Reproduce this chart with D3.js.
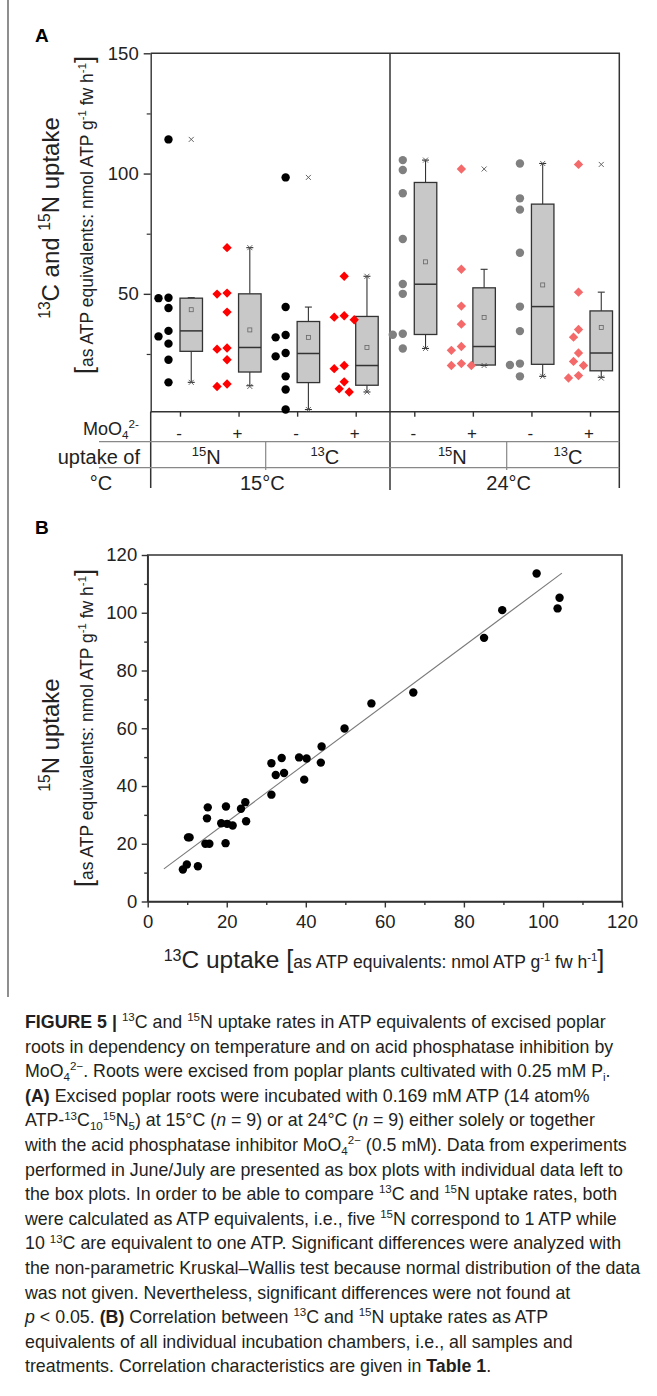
<!DOCTYPE html>
<html><head><meta charset="utf-8">
<script src="https://cdn.jsdelivr.net/npm/d3@7"></script>
<style>
html,body{margin:0;padding:0;background:#fff;}
svg{display:block;font-family:"Liberation Sans",Arial,sans-serif;}
</style></head>
<body>
<svg id="fig" width="657" height="1396"></svg>
<script>
// ---------------- DATA ----------------
// Panel A: groups (uptake of / MoO4 / temperature)
const groupUptake = ["15N","15N","13C","13C","15N","15N","13C","13C"];
const groupMo = ["-","+","-","+","-","+","-","+"];
const groupTemp = ["15°C","15°C","15°C","15°C","24°C","24°C","24°C","24°C"];
// individual values per group
const ptsG1 = [114.2,48.4,48.2,44.1,34.6,32.3,29.3,22.6,13.2];
const ptsG2 = [69.2,50.3,49.9,42.4,27.5,27.0,22.6,12.5,11.5];
const ptsG3 = [98.4,44.5,32.9,31.9,25.4,24.0,15.7,10.2,1.9];
const ptsG4 = [57.3,40.9,40.3,39.2,20.2,18.9,13.4,10.5,9.2];
const ptsG5 = [105.6,101.5,91.8,72.8,54.1,50.0,33.4,33.0,27.3];
const ptsG6 = [101.9,60.2,44.9,37.4,28.1,26.5,21.0,20.2,20.2];
const ptsG7 = [104.2,89.7,85.0,67.1,44.7,34.5,21.0,20.4,15.7];
const ptsG8 = [103.8,50.7,35.2,32.0,25.4,21.9,20.2,16.0,15.0];
// box statistics
const boxQ1     = [26.1,17.5,13.1,12.0,33.1,20.4,20.7,18.0];
const boxMedian = [34.6,27.7,25.2,20.2,54.0,28.1,44.7,25.4];
const boxQ3     = [48.2,50.0,38.5,40.6,96.3,52.5,87.3,42.9];
const boxWhLow  = [13.2,11.8,1.9,9.2,27.3,20.2,15.7,15.3];
const boxWhHigh = [48.4,69.2,44.5,57.3,105.6,60.2,104.2,50.7];
const boxMean   = [43.4,35.0,31.9,27.7,63.3,40.2,53.7,36.0];
const boxMin    = [13.2,11.5,1.9,9.2,27.3,20.2,15.7,15.0];
const boxMax    = [114.2,69.2,98.4,57.3,105.6,101.9,104.2,103.8];
const yTicksA = [50,100,150];
const yMinorA = [25,75,125];

// Panel B: 13C vs 15N uptake
const c13 = [8.9,9.9,10.2,10.6,12.7,15.2,15.0,14.6,15.6,18.6,19.8,19.7,20.1,21.5,23.6,24.7,24.9,31.3,31.3,32.4,33.9,34.5,38.3,40.2,39.6,43.8,44.0,49.8,56.6,67.2,85.1,89.7,98.4,104.2,103.7];
const n15 = [11.1,12.8,22.2,22.2,12.2,32.6,28.8,20.0,20.0,27.1,32.9,20.2,26.9,26.3,32.1,34.4,27.8,47.9,37.0,43.8,49.7,44.5,49.9,49.5,42.2,48.1,53.7,59.9,68.6,72.4,91.3,100.9,113.6,105.2,101.5];
const fitSlope = 1.017, fitIntercept = 7.13, fitRange = [4.1,104.8];
const ticksB = [0,20,40,60,80,100,120];
const minorB = [10,30,50,70,90,110];

// ---------------- HELPERS ----------------
const svg = d3.select("#fig");
function rich(text, segs, fs){
  let cur = 0;
  segs.forEach(s=>{
    const str = s[0], f = (s[1]||"").split(" ");
    let size = fs, off = 0;
    if(f.includes("sup")){ size = fs*0.65; off = -0.38*fs; }
    if(f.includes("sub")){ size = fs*0.65; off = 0.22*fs; }
    if(f.includes("big")){ size = fs*1.45; }
    if(f.includes("large")){ size = fs*1.4; }
    const t = text.append("tspan").text(str).attr("font-size", size);
    if(off!==cur){ t.attr("dy", off-cur); cur = off; }
    if(f.includes("b")) t.attr("font-weight","bold");
    if(f.includes("i")) t.attr("font-style","italic");
  });
  return text;
}
const dark = "#333";

// frame line on left
svg.append("line").attr("x1",8).attr("x2",8).attr("y1",0).attr("y2",997).attr("stroke","#444").attr("stroke-width",1.2);

// ---------------- PANEL A ----------------
const L = 150.7, R = 619.3, T = 53.3, B = 411.7, DIV = 390;
const yA = d3.scaleLinear().domain([1,150]).range([B,T]);
const xA = d3.scalePoint().domain(d3.range(8)).range([L,R]).padding(0.5);
const gA = svg.append("g");

svg.append("text").attr("x",35).attr("y",42).attr("font-size",19).attr("font-weight","bold").text("A");

// y axis
const axA = gA.append("g").attr("transform",`translate(${L},0)`)
  .call(d3.axisLeft(yA).tickValues(yTicksA).tickSize(7).tickSizeOuter(0).tickPadding(5));
axA.selectAll("text").attr("font-size",18.5).attr("fill","#222").attr("font-family","Liberation Sans, Arial");
axA.selectAll("line,path").attr("stroke",dark).attr("stroke-width",1.4);
const axAm = gA.append("g").attr("transform",`translate(${L},0)`)
  .call(d3.axisLeft(yA).tickValues(yMinorA).tickSize(4).tickFormat(""));
axAm.select(".domain").remove();
axAm.selectAll("line").attr("stroke",dark).attr("stroke-width",1.2);

// x axis ticks
const axAx = gA.append("g").attr("transform",`translate(0,${B})`)
  .call(d3.axisBottom(xA).tickSize(5).tickSizeOuter(0).tickFormat(""));
axAx.select(".domain").remove();
axAx.selectAll("line").attr("stroke",dark).attr("stroke-width",1.4);

// frame
gA.append("path").attr("d",`M${L},${B}H${R}V${T}H${L}`).attr("fill","none").attr("stroke",dark).attr("stroke-width",1.5);
// divider / table verticals
gA.append("line").attr("x1",DIV).attr("x2",DIV).attr("y1",T).attr("y2",490).attr("stroke",dark).attr("stroke-width",1.5);
gA.append("line").attr("x1",L).attr("x2",L).attr("y1",B).attr("y2",488).attr("stroke",dark).attr("stroke-width",1.5);
gA.append("line").attr("x1",R).attr("x2",R).attr("y1",B).attr("y2",488).attr("stroke",dark).attr("stroke-width",1.5);
// table horizontals
[441.7,467.7].forEach(y=>gA.append("line").attr("x1",99).attr("x2",R).attr("y1",y).attr("y2",y).attr("stroke","#888").attr("stroke-width",1.2));
const seps = [265.7,506.7];
seps.forEach(x=>gA.append("line").attr("x1",x).attr("x2",x).attr("y1",441.7).attr("y2",470).attr("stroke","#888").attr("stroke-width",1.2));

// MoO4 labels
groupMo.forEach((m,i)=>{
  gA.append("text").attr("x",xA(i)-1).attr("y",439).attr("text-anchor","middle").attr("font-size",17).attr("fill","#222").text(m);
});
// uptake labels (centered in their table cells)
const cellEdges = [[L,seps[0]],[seps[0],DIV],[DIV,seps[1]],[seps[1],R]];
const cellShift = [-2,-3,4,5];
cellEdges.forEach((c,k)=>{
  const u = groupUptake[k*2];
  const t = gA.append("text").attr("x",(c[0]+c[1])/2+cellShift[k]).attr("y",464).attr("text-anchor","middle").attr("font-size",20).attr("fill","#222");
  rich(t,[[u.slice(0,2),"sup"],[u.slice(2)]],20);
});
// temp labels
[[L,DIV,0,-8],[DIV,R,4,4]].forEach(p=>{
  gA.append("text").attr("x",(p[0]+p[1])/2+p[3]).attr("y",490).attr("text-anchor","middle").attr("font-size",20).attr("fill","#222").text(groupTemp[p[2]]);
});
// row titles
rich(gA.append("text").attr("x",139).attr("y",435).attr("text-anchor","end").attr("font-size",18).attr("fill","#222"),[["MoO"],["4","sub"],["2-","sup"]],18);
gA.append("text").attr("x",140).attr("y",464).attr("text-anchor","end").attr("font-size",20).attr("fill","#222").text("uptake of");
gA.append("text").attr("x",101).attr("y",490).attr("text-anchor","middle").attr("font-size",20).attr("fill","#222").text("°C");

// y title
const tA1 = gA.append("text").attr("transform","translate(59,218) rotate(-90)").attr("text-anchor","middle").attr("font-size",24).attr("fill","#222");
rich(tA1,[["13","sup"],["C and "],["15","sup"],["N uptake"]],24);
const tA2 = gA.append("text").attr("transform","translate(93,215) rotate(-90)").attr("text-anchor","middle").attr("font-size",17.5).attr("fill","#222");
rich(tA2,[["[","big"],["as ATP equivalents: nmol ATP g"],["-1","sup"],[" fw h"],["-1","sup"],["]","big"]],17.5);

// boxes & points
const allPts = [ptsG1,ptsG2,ptsG3,ptsG4,ptsG5,ptsG6,ptsG7,ptsG8];
const ptColor = ["#000","#ff0000","#000","#ff0000","#808080","#f46a6a","#808080","#f46a6a"];
const isDiamond = [false,true,false,true,false,true,false,true];
const boxW = 22.5;
allPts.forEach((pts,i)=>{
  const x0 = xA(i), bc = x0 + boxW/2;
  const g = gA.append("g");
  // whiskers
  g.append("line").attr("x1",bc).attr("x2",bc).attr("y1",yA(boxQ3[i])).attr("y2",yA(boxWhHigh[i])).attr("stroke",dark).attr("stroke-width",1.1);
  g.append("line").attr("x1",bc).attr("x2",bc).attr("y1",yA(boxQ1[i])).attr("y2",yA(boxWhLow[i])).attr("stroke",dark).attr("stroke-width",1.1);
  [boxWhHigh[i],boxWhLow[i]].forEach(v=>g.append("line").attr("x1",bc-3.5).attr("x2",bc+3.5).attr("y1",yA(v)).attr("y2",yA(v)).attr("stroke",dark).attr("stroke-width",1.1));
  // box
  g.append("rect").attr("x",x0).attr("width",boxW).attr("y",yA(boxQ3[i])).attr("height",yA(boxQ1[i])-yA(boxQ3[i]))
    .attr("fill","#c8c8c8").attr("stroke",dark).attr("stroke-width",1.3);
  g.append("line").attr("x1",x0).attr("x2",x0+boxW).attr("y1",yA(boxMedian[i])).attr("y2",yA(boxMedian[i])).attr("stroke",dark).attr("stroke-width",1.5);
  // mean
  g.append("rect").attr("x",bc-2).attr("y",yA(boxMean[i])-2).attr("width",4).attr("height",4).attr("fill","none").attr("stroke","#666").attr("stroke-width",0.8);
  // min / max crosses
  [boxMin[i],boxMax[i]].forEach(v=>{
    const cy = yA(v);
    g.append("path").attr("d",`M${bc-2.5},${cy-2.5}L${bc+2.5},${cy+2.5}M${bc-2.5},${cy+2.5}L${bc+2.5},${cy-2.5}`).attr("stroke","#555").attr("stroke-width",0.9);
  });
  // points with simple beeswarm
  const cx0 = x0 - 11.5;
  const placed = [];
  const sorted = pts.slice().sort((a,b)=>b-a);
  sorted.forEach(v=>{
    const cy = yA(v);
    const offs = [0,-5,5,-10,10,-13,13];
    let ox = 0;
    for(const o of offs){
      if(placed.every(p=>Math.hypot(p[0]-(cx0+o),p[1]-cy)>=8.5)){ ox = o; break; }
    }
    placed.push([cx0+ox,cy]);
  });
  placed.forEach(p=>{
    if(isDiamond[i]){
      g.append("path").attr("d",d3.symbol(d3.symbolSquare,44)()).attr("transform",`translate(${p[0]},${p[1]}) rotate(45)`).attr("fill",ptColor[i]);
    } else {
      g.append("circle").attr("cx",p[0]).attr("cy",p[1]).attr("r",4.2).attr("fill",ptColor[i]);
    }
  });
});

// ---------------- PANEL B ----------------
const BL = 147.7, BR = 622, BT = 555, BB = 901.5;
const xB = d3.scaleLinear().domain([0,120]).range([BL,BR]);
const yB = d3.scaleLinear().domain([0,120]).range([BB,BT]);
const gB = svg.append("g");
svg.append("text").attr("x",35).attr("y",534).attr("font-size",19).attr("font-weight","bold").text("B");

gB.append("rect").attr("x",BL).attr("y",BT).attr("width",BR-BL).attr("height",BB-BT).attr("fill","none").attr("stroke",dark).attr("stroke-width",1.5);
const axBx = gB.append("g").attr("transform",`translate(0,${BB})`).call(d3.axisBottom(xB).tickValues(ticksB).tickSize(6).tickSizeOuter(0).tickPadding(7));
const axBxm = gB.append("g").attr("transform",`translate(0,${BB})`).call(d3.axisBottom(xB).tickValues(minorB).tickSize(3.5).tickFormat(""));
const axBy = gB.append("g").attr("transform",`translate(${BL},0)`).call(d3.axisLeft(yB).tickValues(ticksB).tickSize(6).tickSizeOuter(0).tickPadding(4.5));
const axBym = gB.append("g").attr("transform",`translate(${BL},0)`).call(d3.axisLeft(yB).tickValues(minorB).tickSize(3.5).tickFormat(""));
[axBx,axBxm,axBy,axBym].forEach(a=>{
  a.selectAll("line,path").attr("stroke",dark).attr("stroke-width",1.4);
  a.selectAll("text").attr("font-size",18.5).attr("fill","#222").attr("font-family","Liberation Sans, Arial");
});
axBxm.select(".domain").remove(); axBym.select(".domain").remove();

// fit line
gB.append("line").attr("x1",xB(fitRange[0])).attr("y1",yB(fitIntercept+fitSlope*fitRange[0]))
  .attr("x2",xB(fitRange[1])).attr("y2",yB(fitIntercept+fitSlope*fitRange[1])).attr("stroke","#7a7a7a").attr("stroke-width",1.1);
// points
gB.selectAll("circle.pt").data(c13.map((c,i)=>[c,n15[i]])).enter().append("circle")
  .attr("cx",d=>xB(d[0])).attr("cy",d=>yB(d[1])).attr("r",4.2).attr("fill","#000");

// titles
const tB1 = gB.append("text").attr("transform","translate(59,735) rotate(-90)").attr("text-anchor","middle").attr("font-size",24).attr("fill","#222");
rich(tB1,[["15","sup"],["N uptake"]],24);
const tB2 = gB.append("text").attr("transform","translate(93,728) rotate(-90)").attr("text-anchor","middle").attr("font-size",17.5).attr("fill","#222");
rich(tB2,[["[","big"],["as ATP equivalents: nmol ATP g"],["-1","sup"],[" fw h"],["-1","sup"],["]","big"]],17.5);
const tB3 = gB.append("text").attr("x",384).attr("y",968).attr("text-anchor","middle").attr("font-size",17.5).attr("fill","#222");
rich(tB3,[["13","sup"],["C uptake ","large"],["[","big"],["as ATP equivalents: nmol ATP g"],["-1","sup"],[" fw h"],["-1","sup"],["]","big"]],17.5);
tB3.selectAll("tspan").filter((d,i)=>i===0).attr("font-size",16);

// ---------------- CAPTION ----------------
const capLines = [
  [["FIGURE 5 |","b"],[" "],["13","sup"],["C and "],["15","sup"],["N uptake rates in ATP equivalents of excised poplar"]],
  [["roots in dependency on temperature and on acid phosphatase inhibition by"]],
  [["MoO"],["4","sub"],["2−","sup"],[". Roots were excised from poplar plants cultivated with 0.25 mM P"],["i","sub"],["."]],
  [["(A)","b"],[" Excised poplar roots were incubated with 0.169 mM ATP (14 atom%"]],
  [["ATP-"],["13","sup"],["C"],["10","sub"],["15","sup"],["N"],["5","sub"],[") at 15°C ("],["n","i"],[" = 9) or at 24°C ("],["n","i"],[" = 9) either solely or together"]],
  [["with the acid phosphatase inhibitor MoO"],["4","sub"],["2−","sup"],[" (0.5 mM). Data from experiments"]],
  [["performed in June/July are presented as box plots with individual data left to"]],
  [["the box plots. In order to be able to compare "],["13","sup"],["C and "],["15","sup"],["N uptake rates, both"]],
  [["were calculated as ATP equivalents, i.e., five "],["15","sup"],["N correspond to 1 ATP while"]],
  [["10 "],["13","sup"],["C are equivalent to one ATP. Significant differences were analyzed with"]],
  [["the non-parametric Kruskal–Wallis test because normal distribution of the data"]],
  [["was not given. Nevertheless, significant differences were not found at"]],
  [["p","i"],[" < 0.05. "],["(B)","b"],[" Correlation between "],["13","sup"],["C and "],["15","sup"],["N uptake rates as ATP"]],
  [["equivalents of all individual incubation chambers, i.e., all samples and"]],
  [["treatments. Correlation characteristics are given in "],["Table 1","b"],["."]]
];
capLines.forEach((segs,i)=>{
  const t = svg.append("text").attr("x",25).attr("y",1028+i*24.6).attr("font-size",17.8).attr("fill","#231f20");
  rich(t,segs,17.8);
});
</script>
</body></html>
